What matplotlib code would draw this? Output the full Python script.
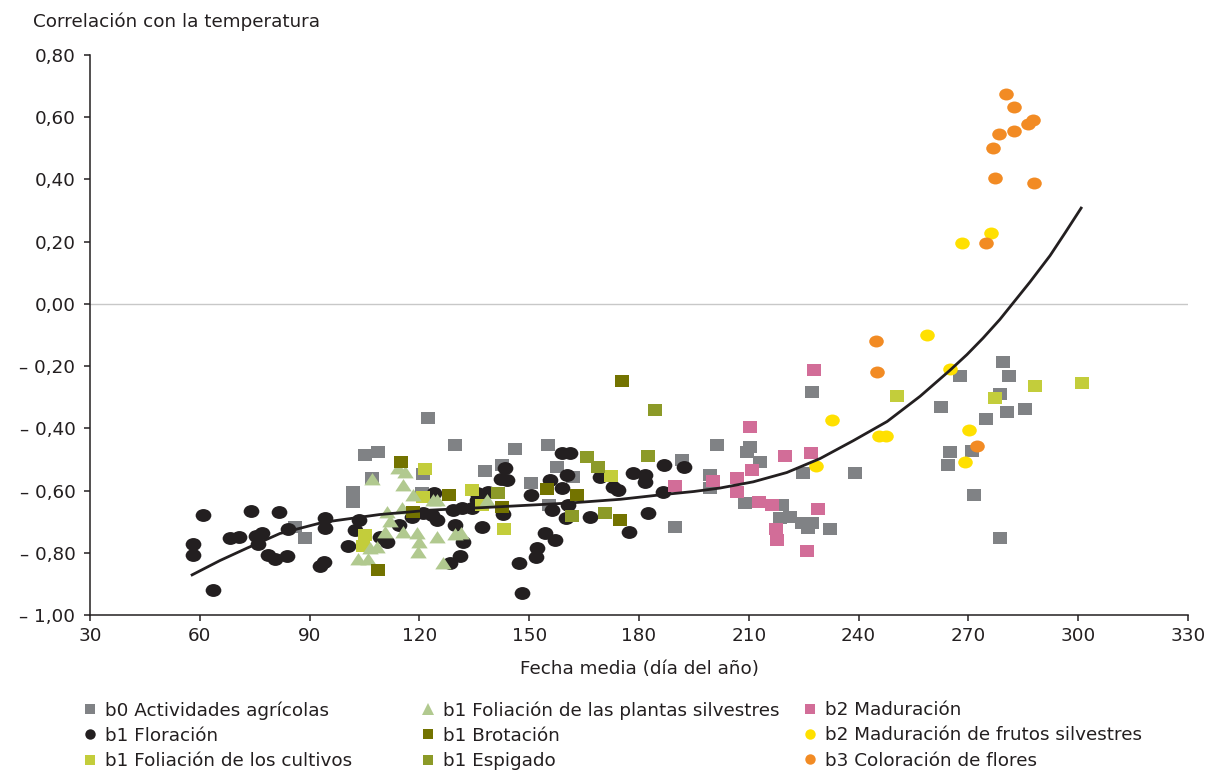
import numpy as np
import matplotlib.pyplot as plt
from matplotlib.path import Path
from matplotlib.transforms import Affine2D
from matplotlib.lines import Line2D

# ---- data ----
# b0 Actividades agricolas
b0_x = [122.3, 105.1, 108.7, 107.0, 101.9, 101.9, 86.0, 88.7, 121.0, 129.7, 137.9, 142.6, 146.1,
        150.5, 155.1, 157.6, 162.0, 155.4, 120.7, 191.7, 201.3, 210.3, 209.5, 199.4, 199.4, 209.0,
        189.8, 227.3, 213.1, 224.8, 239.0, 219.1, 221.3, 218.5, 224.5, 227.3, 226.2, 232.2, 279.5,
        281.1, 267.7, 278.6, 262.5, 280.5, 285.5, 274.8, 265.0, 271.0, 264.4, 271.5, 278.6]
b0_y = [-0.367, -0.486, -0.476, -0.560, -0.605, -0.637, -0.717, -0.753, -0.547, -0.454, -0.537,
        -0.518, -0.466, -0.576, -0.454, -0.524, -0.556, -0.646, -0.608, -0.502, -0.454, -0.460,
        -0.476, -0.550, -0.592, -0.640, -0.717, -0.283, -0.508, -0.544, -0.544, -0.646, -0.685,
        -0.688, -0.704, -0.704, -0.720, -0.724, -0.187, -0.232, -0.232, -0.290, -0.331, -0.348,
        -0.338, -0.370, -0.476, -0.473, -0.518, -0.614, -0.753]

# b1 Floracion
flor_x = [60.9, 58.1, 58.1, 63.6, 68.3, 70.7, 74.0, 81.6, 75.4, 77.0, 75.9, 78.6, 80.5, 83.8, 84.1,
          93.9, 92.8, 94.2, 94.2, 100.5, 102.4, 103.5, 111.1, 109.2, 114.4, 118.0, 121.0, 124.0,
          124.8, 123.4, 129.2, 131.6, 134.4, 129.7, 131.9, 131.1, 128.4, 137.1, 135.7, 138.7, 143.4,
          142.3, 143.9, 142.8, 147.2, 148.0, 150.5, 154.3, 157.0, 152.1, 151.9, 155.7, 159.0, 161.1,
          159.0, 160.3, 156.2, 160.1, 166.6, 160.6, 169.3, 172.9, 174.3, 178.4, 181.6, 181.6, 186.8,
          192.3, 186.6, 182.5, 177.3, 135.7]
flor_y = [-0.679, -0.772, -0.807, -0.920, -0.753, -0.749, -0.666, -0.669, -0.746, -0.736, -0.772,
          -0.807, -0.820, -0.810, -0.724, -0.830, -0.843, -0.688, -0.720, -0.778, -0.727, -0.695,
          -0.765, -0.749, -0.711, -0.685, -0.672, -0.608, -0.695, -0.679, -0.663, -0.656, -0.656,
          -0.711, -0.765, -0.810, -0.833, -0.717, -0.608, -0.605, -0.528, -0.563, -0.566, -0.675,
          -0.833, -0.929, -0.614, -0.736, -0.759, -0.785, -0.814, -0.566, -0.479, -0.479, -0.592,
          -0.550, -0.663, -0.688, -0.685, -0.646, -0.556, -0.589, -0.598, -0.544, -0.550, -0.573,
          -0.518, -0.524, -0.605, -0.672, -0.733, -0.630]

# b1 Foliacion de los cultivos
cult_x = [301.0, 288.2, 277.3, 250.5, 121.5, 134.4, 143.1, 137.1, 172.3, 105.1, 104.6, 121.0]
cult_y = [-0.254, -0.264, -0.303, -0.296, -0.531, -0.598, -0.724, -0.646, -0.553, -0.743, -0.778, -0.621]

# b1 Foliacion de las plantas silvestres
silv_x = [107.0, 114.2, 116.1, 115.5, 118.3, 111.1, 115.2, 112.0, 110.6, 108.4, 103.2, 106.0,
          115.5, 119.3, 119.9, 119.6, 124.8, 126.4, 123.7, 129.7, 131.4, 138.5, 106.5, 124.8]
silv_y = [-0.563, -0.528, -0.540, -0.582, -0.614, -0.669, -0.656, -0.698, -0.733, -0.781, -0.820,
          -0.820, -0.733, -0.736, -0.765, -0.798, -0.749, -0.833, -0.630, -0.740, -0.736, -0.630,
          -0.785, -0.630]

# b1 Brotacion
brot_x = [175.4, 115.0, 108.7, 128.1, 142.6, 118.3, 174.8, 154.9, 163.1]
brot_y = [-0.248, -0.508, -0.855, -0.614, -0.653, -0.669, -0.695, -0.595, -0.614]

# b1 Espigado
espi_x = [184.4, 182.5, 165.8, 168.8, 161.7, 170.7, 141.5]
espi_y = [-0.341, -0.489, -0.492, -0.524, -0.682, -0.672, -0.608]

# b2 Maduracion
madu_x = [227.8, 210.3, 219.9, 227.0, 210.9, 206.8, 206.8, 189.8, 200.2, 212.8, 216.3, 228.9,
          217.4, 217.7, 225.9]
madu_y = [-0.213, -0.396, -0.489, -0.479, -0.534, -0.560, -0.605, -0.585, -0.569, -0.637, -0.646,
          -0.659, -0.724, -0.759, -0.794]

# b2 Maduracion de frutos silvestres
frut_x = [268.3, 276.2, 258.7, 265.0, 232.7, 245.6, 247.5, 228.4, 270.2, 269.1]
frut_y = [0.196, 0.228, -0.100, -0.209, -0.373, -0.425, -0.425, -0.521, -0.405, -0.508]

# b3 Coloracion de flores
colo_x = [280.3, 282.5, 286.3, 287.7, 278.4, 282.5, 276.7, 277.3, 287.9, 274.8, 244.8, 245.0, 272.3]
colo_y = [0.675, 0.633, 0.578, 0.591, 0.546, 0.556, 0.501, 0.405, 0.389, 0.196, -0.119, -0.219, -0.457]

# trend line
trend_x = [57.9, 65.5, 72.9, 81.9, 93.7, 109.2, 122.9, 142.0, 161.1, 175.0, 185.7, 195.0, 202.1,
           211.2, 220.4, 229.5, 238.5, 247.8, 256.8, 265.0, 269.6, 274.0, 278.6, 282.7, 286.8,
           292.3, 296.4, 300.8]
trend_y = [-0.871, -0.825, -0.785, -0.738, -0.702, -0.677, -0.663, -0.652, -0.640, -0.628, -0.614,
           -0.603, -0.592, -0.572, -0.542, -0.497, -0.440, -0.378, -0.297, -0.213, -0.163, -0.110,
           -0.050, 0.010, 0.070, 0.155, 0.228, 0.308]

y_ticks = [-1.0, -0.8, -0.6, -0.4, -0.2, 0.0, 0.2, 0.4, 0.6, 0.8]
y_labels = ['\u2013 1,00', '\u2013 0,80', '\u2013 0,60', '\u2013 0,40', '\u2013 0,20',
            '0,00', '0,20', '0,40', '0,60', '0,80']
x_ticks = [30, 60, 90, 120, 150, 180, 210, 240, 270, 300, 330]

txt = '#231f20'
fs = 13.2
plt.rcParams['font.family'] = ['DejaVu Sans']
plt.rcParams['font.size'] = fs

# markers: slightly wide squares / ellipses, flat triangle
sq = [(-1, -0.82), (1, -0.82), (1, 0.82), (-1, 0.82), (-1, -0.82)]
ell = Path.unit_circle().transformed(Affine2D().scale(1.0, 0.82))
tri = [(-1, -0.72), (1, -0.72), (0, 0.78), (-1, -0.72)]

fig = plt.figure(figsize=(12.07, 7.72), dpi=100)
ax = fig.add_axes([90 / 1207, 1 - 615 / 772, 1098 / 1207, 560 / 772])

ax.axhline(0, color='#c8c8c8', lw=1, zorder=1)

series = [
    (b0_x, b0_y, '#808285', sq, 108, 'b0 Actividades agrícolas', 's'),
    (flor_x, flor_y, '#231f20', ell, 128, 'b1 Floración', 'o'),
    (cult_x, cult_y, '#c3cd3b', sq, 108, 'b1 Foliación de los cultivos', 's'),
    (silv_x, silv_y, '#b1c98f', tri, 140, 'b1 Foliación de las plantas silvestres', '^'),
    (brot_x, brot_y, '#737300', sq, 108, 'b1 Brotación', 's'),
    (espi_x, espi_y, '#8c9a28', sq, 108, 'b1 Espigado', 's'),
    (madu_x, madu_y, '#d26d98', sq, 108, 'b2 Maduración', 's'),
    (frut_x, frut_y, '#ffe000', ell, 110, 'b2 Maduración de frutos silvestres', 'o'),
    (colo_x, colo_y, '#f28b24', ell, 110, 'b3 Coloración de flores', 'o'),
]
handles = []
for i, (xs, ys, c, m, s, lab, lm) in enumerate(series):
    ax.scatter(xs, ys, s=s, marker=m, color=c, linewidths=0, zorder=2 + i)
    handles.append(Line2D([], [], ls='none', marker=lm, color=c, markersize=7.5 if lm != '^' else 8.5,
                          markeredgewidth=0, label=lab))

ax.plot(trend_x, trend_y, color='#231f20', lw=2, zorder=20, solid_joinstyle='round')

ax.set_xlim(30, 330)
ax.set_ylim(-1.0, 0.8)
ax.set_xticks(x_ticks)
ax.set_yticks(y_ticks)
ax.set_yticklabels(y_labels)
for sp in ['top', 'right']:
    ax.spines[sp].set_visible(False)
for sp in ['left', 'bottom']:
    ax.spines[sp].set_color(txt)
    ax.spines[sp].set_linewidth(1.1)
ax.tick_params(axis='both', direction='out', length=4.5, width=1.1, color=txt, labelcolor=txt,
               labelsize=fs)
ax.tick_params(axis='y', pad=6)
ax.tick_params(axis='x', pad=4)
ax.set_xlabel('Fecha media (día del año)', color=txt, fontsize=fs, labelpad=11)

fig.text(33 / 1207, 1 - 22 / 772, 'Correlación con la temperatura', color=txt, fontsize=fs,
         ha='left', va='center')

# legend: three columns
cols = [(handles[0:3], 82), (handles[3:6], 420), (handles[6:9], 802)]
for hs, x0 in cols:
    lg = fig.legend(handles=hs, loc='upper left', bbox_to_anchor=(x0 / 1207, 1 - 701 / 772),
                    frameon=False, borderpad=0, borderaxespad=0, handlelength=0.82,
                    handletextpad=0.42, labelspacing=0.4, fontsize=fs)
    for t in lg.get_texts():
        t.set_color(txt)

fig.savefig('out.png', dpi=100)
